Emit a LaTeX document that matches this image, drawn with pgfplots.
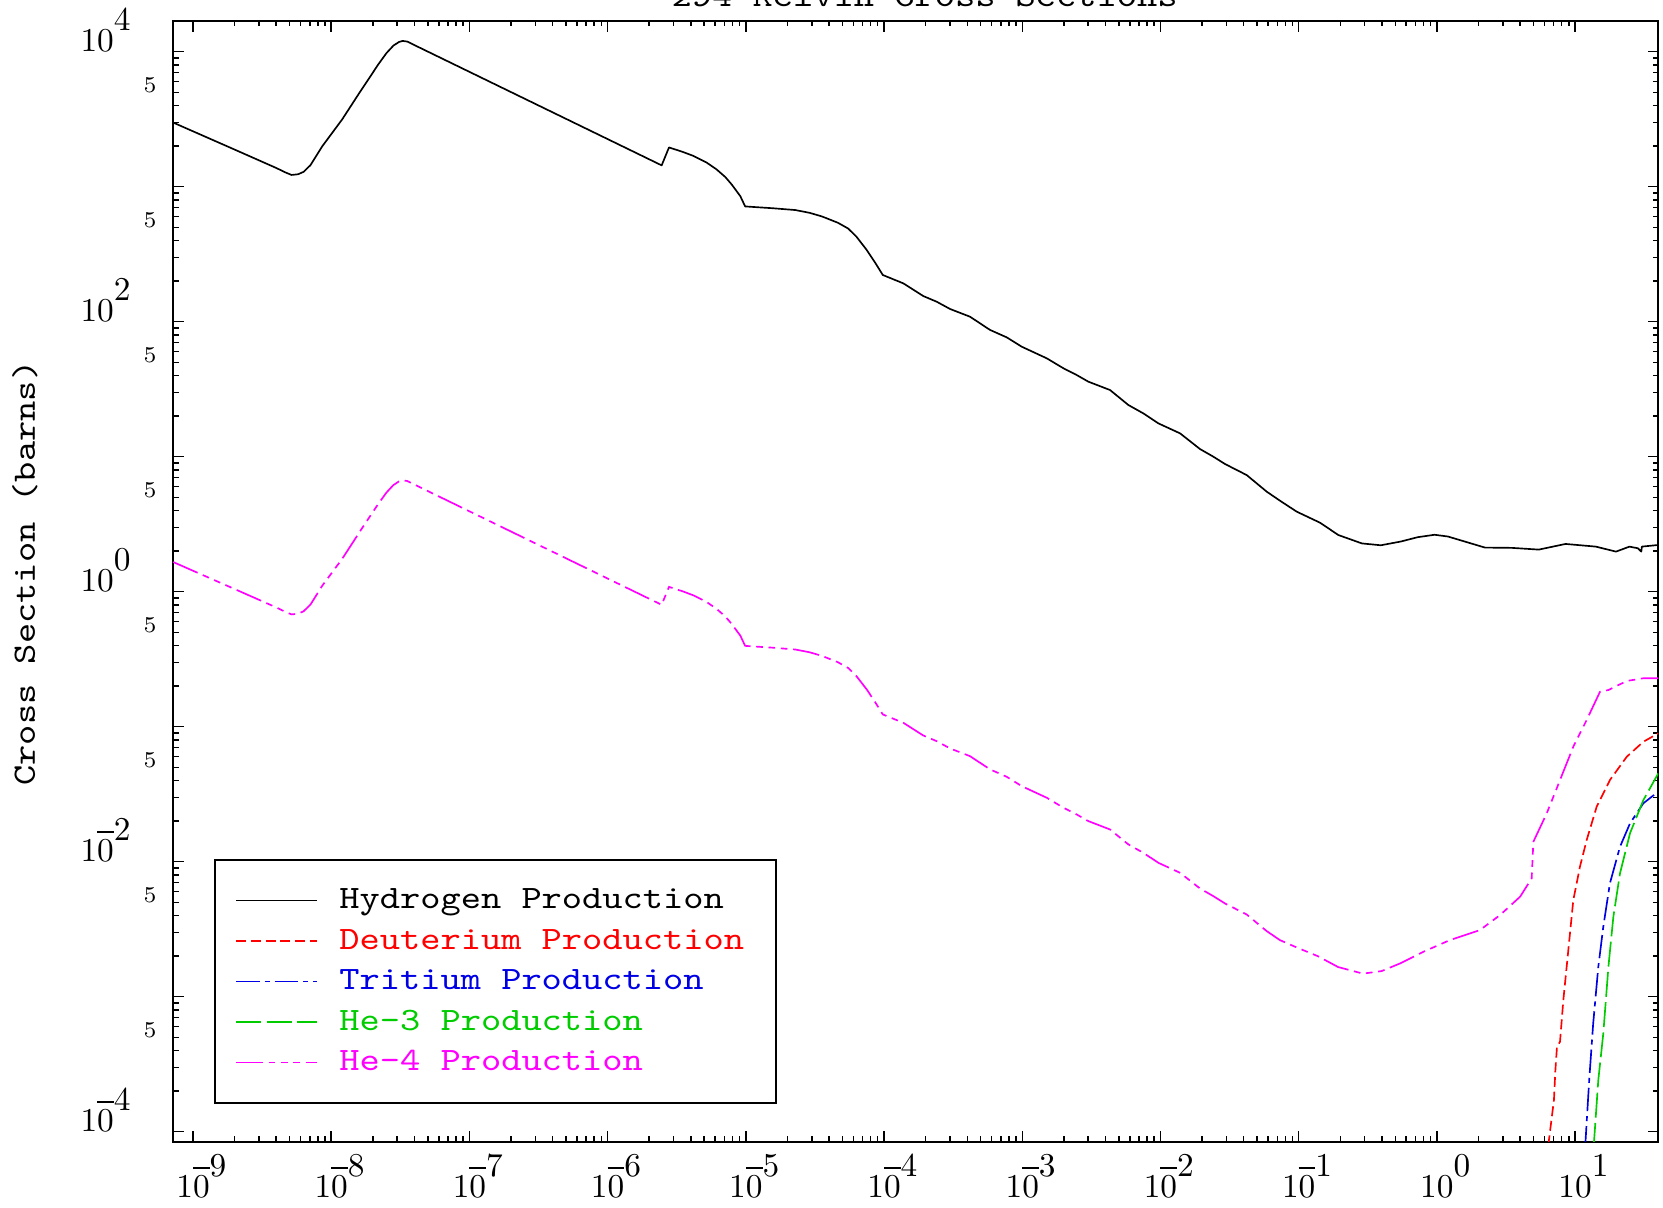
\documentclass[border=0pt]{standalone}
\usepackage{fontspec}
\usepackage{pgfplots}
\pgfplotsset{compat=1.18}
\newfontfamily\hersh[FakeStretch=1.18]{Latin Modern Mono}
\newcommand{\lf}{\hersh\fontsize{9.8}{11}\selectfont}
\newcommand{\tn}[1]{1\makebox[0pt][l]{\raisebox{8.5pt}{\rule{5pt}{0.6pt}}}0\raisebox{6.3pt}{#1}}
\newcommand{\tp}[1]{10\raisebox{6.3pt}{#1}}
\definecolor{hgreen}{rgb}{0,0.8,0}
\definecolor{hmag}{rgb}{1,0,1}
\definecolor{hred}{rgb}{1,0,0}
\definecolor{hblue}{rgb}{0,0,0.9}
\begin{document}
\begin{tikzpicture}
\begin{axis}[
  scale only axis, width=445.5pt, height=336.2pt,
  xmode=log, ymode=log,
  xmin=7.19e-10, xmax=40, ymin=8.43e-5, ymax=16880,
  axis line style={line width=0.6pt},
  every tick/.style={black, line width=0.45pt},
  tick align=inside,
  major tick length=3.2pt, minor tick length=1.6pt,
  xtick={1e-9,1e-8,1e-7,1e-6,1e-5,1e-4,1e-3,1e-2,1e-1,1,10},
  xticklabels={\hphantom{0}\tn{9},\hphantom{0}\tn{8},\hphantom{0}\tn{7},\hphantom{0}\tn{6},\hphantom{0}\tn{5},\hphantom{0}\tn{4},\hphantom{0}\tn{3},\hphantom{0}\tn{2},\hphantom{0}\tn{1},\hphantom{0}\tp{0},\hphantom{0}\tp{1}},
  ytick={1e-4,1e-3,1e-2,1e-1,1,10,100,1000,1e4},
  yticklabels={\tn{4},{},\tn{2},{},\tp{0},{},\tp{2},{},\tp{4}},
  extra y ticks={5e-4,5e-3,5e-2,0.5,5,50,500,5000},
  extra y tick labels={5,5,5,5,5,5,5,5},
  extra y tick style={major tick length=1.6pt, yticklabel style={font=\fontsize{6.8}{7}\selectfont, xshift=7.8pt}},
  xticklabel style={font=\fontsize{10}{12}\selectfont, anchor=base, inner sep=0pt, yshift=-16.8pt},
  yticklabel style={font=\fontsize{10}{12}\selectfont, anchor=base east, inner sep=0pt, xshift=-12.6pt},
  ylabel={Cross Section (barns)},
  every axis y label/.style={at={(axis description cs:-0.0931,0.5074)}, rotate=90, anchor=base, font=\lf},
  title={294 Kelvin Cross Sections},
  every axis title/.style={at={(axis description cs:0.506,1.0128)}, anchor=base, font=\lf},
  legend style={at={(axis description cs:0.0276,0.0336)}, anchor=south west, draw=black, line width=0.6pt, fill=white,
    inner xsep=6.1pt, inner ysep=7.7pt, row sep=3.15pt, font=\lf,
    nodes={inner sep=0pt, text height=7pt, text depth=2pt}},
  legend cell align=left,
  legend image code/.code={\draw[#1] (0pt,0pt) -- (24.2pt,0pt); \path[draw=none] (0pt,0pt) -- (30.9pt,0pt);},
]
\addplot[black, line width=0.5pt, line join=round] coordinates {
(7.19e-10,2985) (2.00e-9,1884) (3.98e-9,1380) (4.68e-9,1274) (5.16e-9,1222) (5.75e-9,1236) (6.31e-9,1288) (7.08e-9,1445) (8.61e-9,1991) (1.20e-8,3150) (1.629e-8,5100) (2.20e-8,8100) (2.512e-8,9772) (2.818e-8,11090) (3.09e-8,11800) (3.289e-8,12020) (3.548e-8,11890) (3.981e-8,11220) (2.460e-6,1439) (2.780e-6,1954) (3.50e-6,1810) (4.178e-6,1690) (5.20e-6,1510) (6.124e-6,1346) (7.10e-6,1180) (7.907e-6,1038) (9.12e-6,851) (9.886e-6,714.5) (1.585e-5,692) (2.286e-5,671.4) (2.90e-5,640) (3.548e-5,602.6) (4.634e-5,540.8) (5.50e-5,490) (6.31e-5,426.6) (7.499e-5,339.6) (8.71e-5,269.2) (9.795e-5,221.8) (1.380e-4,192.3) (1.923e-4,154.9) (2.404e-4,140.6) (3.006e-4,124.2) (4.188e-4,108.9) (5.848e-4,86.9) (7.727e-4,76.56) (9.908e-4,65.31) (1.503e-3,53.58) (1.986e-3,45.19) (2.477e-3,40.27) (3.006e-3,35.97) (4.315e-3,31.19) (5.861e-3,24.15) (7.516e-3,20.94) (9.66e-3,17.66) (1.387e-2,14.89) (1.932e-2,11.40) (2.415e-2,10.00) (2.931e-2,8.831) (4.207e-2,7.311) (5.875e-2,5.508) (7.328e-2,4.721) (9.683e-2,3.917) (0.1429,3.243) (0.1936,2.630) (0.2864,2.280) (0.3926,2.208) (0.5495,2.355) (0.7261,2.535) (0.9616,2.642) (1.202,2.564) (2.228,2.123) (3.483,2.113) (5.458,2.051) (8.531,2.259) (14.13,2.158) (19.77,1.982) (24.72,2.158) (28.44,2.099) (30.13,1.982) (30.41,2.158) (40,2.22)
};
\addlegendentry{Hydrogen Production}
\addplot[hred, line width=0.5pt, dash pattern=on 3pt off 1.4pt] coordinates {
(6.397,7.94e-5) (7.031,1.718e-4) (7.194,2.818e-4) (7.396,4.266e-4) (7.780,4.645e-4) (8.222,9.462e-4) (8.690,1.667e-3) (9.183,2.951e-3) (9.705,5.200e-3) (10.84,9.183e-3) (12.13,1.449e-2) (14.32,2.553e-2) (17.86,4.027e-2) (23.66,5.998e-2) (31.19,7.745e-2) (40,8.93e-2)
};
\addlegendentry{\textcolor{hred}{Deuterium Production}\rule{3.4pt}{0pt}}
\addplot[hblue, line width=0.5pt, dash pattern=on 7pt off 1.5pt on 1.5pt off 1.5pt] coordinates {
(11.80,7.41e-5) (12.65,2.415e-4) (13.52,6.353e-4) (14.72,1.667e-3) (16.0,3.304e-3) (17.86,6.918e-3) (21.13,1.291e-2) (24.95,1.923e-2) (31.19,2.710e-2) (38.99,3.243e-2) (40,3.27e-2)
};
\addlegendentry{\textcolor{hblue}{Tritium Production}}
\addplot[hgreen, line width=0.5pt, dash pattern=on 7.5pt off 1.6pt] coordinates {
(13.61,7.59e-5) (14.72,2.415e-4) (16.0,5.358e-4) (17.42,1.667e-3) (18.92,3.917e-3) (21.13,8.204e-3) (24.95,1.622e-2) (31.19,2.864e-2) (40,4.519e-2)
};
\addlegendentry{\textcolor{hgreen}{He-3 Production}}
\addplot[hmag, line width=0.5pt, dash pattern=on 8pt off 1.7pt on 2pt off 1.7pt on 2pt off 1.7pt on 2pt off 1.7pt] coordinates {
(7.19e-10,1.659) (2.00e-9,1.047) (3.98e-9,0.7671) (4.68e-9,0.7082) (5.16e-9,0.6793) (5.75e-9,0.6871) (6.31e-9,0.716) (7.08e-9,0.8033) (8.61e-9,1.107) (1.20e-8,1.751) (1.629e-8,2.835) (2.20e-8,4.503) (2.512e-8,5.432) (2.818e-8,6.165) (3.09e-8,6.560) (3.289e-8,6.682) (3.548e-8,6.610) (3.981e-8,6.237) (2.460e-6,0.800) (2.780e-6,1.086) (3.50e-6,1.006) (4.178e-6,0.9395) (5.20e-6,0.8394) (6.124e-6,0.7482) (7.10e-6,0.656) (7.907e-6,0.577) (9.12e-6,0.473) (9.886e-6,0.3972) (1.585e-5,0.3847) (2.286e-5,0.3732) (2.90e-5,0.3558) (3.548e-5,0.3350) (4.634e-5,0.3006) (5.50e-5,0.2724) (6.31e-5,0.2371) (7.499e-5,0.1888) (8.71e-5,0.1496) (9.795e-5,0.1233) (1.380e-4,0.1069) (1.923e-4,0.08611) (2.404e-4,0.07816) (3.006e-4,0.06904) (4.188e-4,0.06054) (5.848e-4,0.04831) (7.727e-4,0.04256) (9.908e-4,0.03631) (1.503e-3,0.02979) (1.986e-3,0.02512) (2.477e-3,0.02239) (3.006e-3,0.02000) (4.315e-3,0.01734) (5.861e-3,0.01343) (7.516e-3,0.01164) (9.66e-3,0.009817) (1.387e-2,0.008277) (1.932e-2,0.006337) (2.415e-2,0.005559) (2.931e-2,0.004909) (4.207e-2,0.004064) (5.875e-2,0.003062) (7.328e-2,0.002624) (9.683e-2,0.002317) (0.138,0.001995) (0.1928,0.001660) (0.2917,0.001483) (0.3981,0.001549) (0.5420,0.001766) (0.798,0.002153) (1.245,0.002630) (2.051,0.003119) (2.864,0.004027) (4.0,0.005508) (4.853,0.007534) (4.989,0.01406) (6.237,0.02286) (7.780,0.04027) (9.705,0.07112) (12.13,0.1122) (15.14,0.1816) (17.42,0.1871) (23.66,0.2183) (31.19,0.2286) (40,0.2286)
};
\addlegendentry{\textcolor{hmag}{He-4 Production}}
\coordinate (sw) at (rel axis cs:0,0);
\coordinate (ne) at (rel axis cs:1,1);
\end{axis}
\pgfresetboundingbox
\useasboundingbox ([shift={(-51.96pt,-19.59pt)}]sw) rectangle ([shift={(1.41pt,6.3pt)}]ne);
\end{tikzpicture}
\end{document}
